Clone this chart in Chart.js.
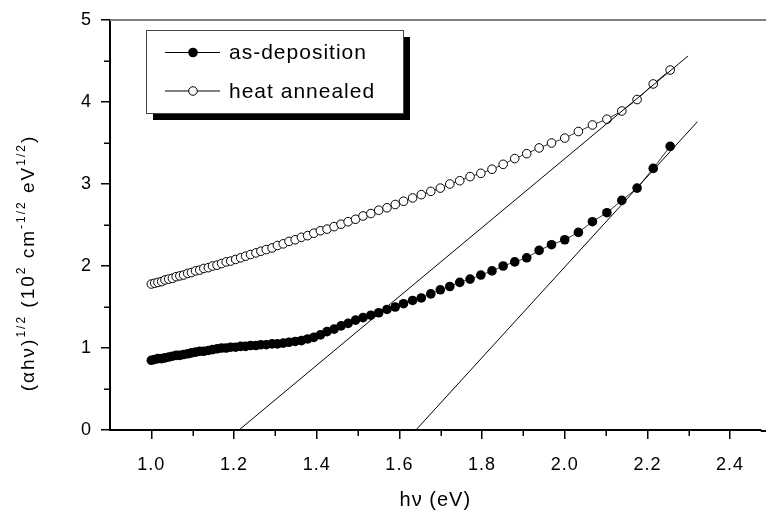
<!DOCTYPE html>
<html>
<head>
<meta charset="utf-8">
<script src="https://cdn.jsdelivr.net/npm/chart.js@4.4.1/dist/chart.umd.min.js"></script>
<style>
  html, body { margin: 0; padding: 0; background: #fff; }
  #wrap { width: 766px; height: 517px; }
</style>
</head>
<body>
<div id="wrap"><canvas id="chart" width="766" height="517"></canvas></div>
<script>
// photon energy (eV) of each measured point
const hvValues = [
  1.000, 1.008, 1.016, 1.025, 1.033, 1.042, 1.051, 1.060, 1.069, 1.078,
  1.088, 1.097, 1.107, 1.117, 1.127, 1.138, 1.148, 1.159, 1.170, 1.181,
  1.192, 1.204, 1.216, 1.228, 1.240, 1.253, 1.265, 1.278, 1.292, 1.305,
  1.319, 1.333, 1.348, 1.363, 1.378, 1.393, 1.409, 1.425, 1.442, 1.459,
  1.476, 1.494, 1.512, 1.531, 1.550, 1.570, 1.590, 1.610, 1.632, 1.653,
  1.676, 1.699, 1.722, 1.746, 1.771, 1.797, 1.824, 1.851, 1.879, 1.908,
  1.938, 1.968, 2.000, 2.033, 2.067, 2.102, 2.138, 2.175, 2.214, 2.255
];
const asDeposition = [
  0.85, 0.86, 0.87, 0.87, 0.88, 0.89, 0.90, 0.91, 0.91, 0.92,
  0.93, 0.94, 0.95, 0.96, 0.96, 0.97, 0.98, 0.99, 1.00, 1.00,
  1.01, 1.01, 1.02, 1.02, 1.03, 1.03, 1.04, 1.04, 1.05, 1.05,
  1.06, 1.07, 1.08, 1.09, 1.11, 1.13, 1.16, 1.20, 1.23, 1.27,
  1.30, 1.34, 1.37, 1.40, 1.43, 1.47, 1.50, 1.54, 1.58, 1.61,
  1.66, 1.71, 1.75, 1.80, 1.84, 1.89, 1.94, 2.00, 2.05, 2.10,
  2.19, 2.26, 2.32, 2.41, 2.54, 2.65, 2.80, 2.95, 3.19, 3.46
];
const heatAnnealed = [
  1.78, 1.79, 1.80, 1.81, 1.83, 1.84, 1.85, 1.87, 1.88, 1.89,
  1.91, 1.92, 1.94, 1.95, 1.97, 1.98, 2.00, 2.01, 2.03, 2.05,
  2.06, 2.08, 2.10, 2.12, 2.14, 2.16, 2.18, 2.20, 2.22, 2.25,
  2.27, 2.30, 2.32, 2.35, 2.37, 2.40, 2.43, 2.45, 2.48, 2.51,
  2.54, 2.57, 2.61, 2.64, 2.68, 2.71, 2.75, 2.79, 2.83, 2.87,
  2.91, 2.95, 3.00, 3.04, 3.09, 3.13, 3.18, 3.24, 3.31, 3.37,
  3.44, 3.50, 3.56, 3.64, 3.72, 3.79, 3.89, 4.03, 4.22, 4.39
];

// linear extrapolation lines (end points)
const fitAnnealedX = [1.212, 2.298];
const fitAnnealedY = [0, 4.56];
const fitDepositionX = [1.640, 2.321];
const fitDepositionY = [0, 3.76];

const xTicks = [1.0, 1.2, 1.4, 1.6, 1.8, 2.0, 2.2, 2.4];
const xMinorTicks = [1.1, 1.3, 1.5, 1.7, 1.9, 2.1, 2.3];
const yTicks = [0, 1, 2, 3, 4, 5];
const yMinorTicks = [0.5, 1.5, 2.5, 3.5, 4.5];

const FONT = '"Liberation Sans", Arial, Helvetica, sans-serif';

const toPoints = (xs, ys) => xs.map((x, i) => ({ x: x, y: ys[i] }));

// minor ticks and the grey top frame line
const framePlugin = {
    id: 'frame',
    afterDraw(chart) {
        const ctx = chart.ctx;
        const area = chart.chartArea;
        const xs = chart.scales.x;
        const ys = chart.scales.y;
        ctx.save();
        ctx.strokeStyle = '#808080';
        ctx.lineWidth = 2;
        ctx.beginPath();
        ctx.moveTo(area.left, area.top);
        ctx.lineTo(chart.width, area.top);
        ctx.stroke();

        ctx.strokeStyle = '#000';
        ctx.lineWidth = 1.5;
        ctx.beginPath();
        xMinorTicks.forEach(v => {
            const px = Math.round(xs.getPixelForValue(v)) + 0.25;
            ctx.moveTo(px, area.bottom);
            ctx.lineTo(px, area.bottom + 6);
        });
        yMinorTicks.forEach(v => {
            const py = Math.round(ys.getPixelForValue(v)) + 0.25;
            ctx.moveTo(area.left - 6, py);
            ctx.lineTo(area.left, py);
        });
        ctx.stroke();
        // x axis runs on to the edge of the picture
        ctx.lineWidth = 2;
        ctx.beginPath();
        ctx.moveTo(area.right, area.bottom + 1);
        ctx.lineTo(chart.width, area.bottom + 1);
        ctx.stroke();
        ctx.restore();
    }
};

// boxed legend with a drop shadow
const boxLegendPlugin = {
    id: 'boxLegend',
    afterDraw(chart) {
        const ctx = chart.ctx;
        const bx = 146, by = 30, bw = 257, bh = 83, shadow = 7;
        ctx.save();
        ctx.fillStyle = '#000';
        ctx.fillRect(bx + shadow, by + shadow, bw, bh);
        ctx.fillStyle = '#fff';
        ctx.fillRect(bx, by, bw, bh);
        ctx.strokeStyle = '#444';
        ctx.lineWidth = 1;
        ctx.strokeRect(bx + 0.5, by + 0.5, bw, bh);

        const rows = [52.5, 91];
        ctx.font = '21px ' + FONT;
        ctx.letterSpacing = '1px';
        ctx.textBaseline = 'middle';
        rows.forEach((y, i) => {
            const ds = chart.data.datasets[i];
            ctx.strokeStyle = '#000';
            ctx.lineWidth = 1;
            ctx.beginPath();
            ctx.moveTo(165, y);
            ctx.lineTo(220, y);
            ctx.stroke();
            ctx.beginPath();
            ctx.arc(193, y, ds.pointRadius, 0, Math.PI * 2);
            ctx.fillStyle = ds.pointBackgroundColor;
            ctx.fill();
            if (ds.pointBorderWidth > 0) {
                ctx.lineWidth = ds.pointBorderWidth;
                ctx.stroke();
            }
            ctx.fillStyle = '#000';
            ctx.fillText(ds.label, 229, y + 1);
        });
        ctx.restore();
    }
};

// rotated y title with superscripts
const yTitlePlugin = {
    id: 'yTitle',
    afterDraw(chart) {
        const ctx = chart.ctx;
        const parts = [
            ['(\u03B1h\u03BD)', false], ['1/2', true], [' (10', false], ['2', true],
            [' cm', false], ['-1/2', true], [' eV', false], ['1/2', true], [')', false]
        ];
        const big = '19px ' + FONT, small = '12px ' + FONT;
        ctx.save();
        ctx.letterSpacing = '2px';
        let total = 0;
        parts.forEach(p => {
            ctx.font = p[1] ? small : big;
            total += ctx.measureText(p[0]).width;
        });
        ctx.translate(34, 263);
        ctx.rotate(-Math.PI / 2);
        ctx.fillStyle = '#000';
        ctx.textBaseline = 'alphabetic';
        let x = -total / 2;
        parts.forEach(p => {
            ctx.font = p[1] ? small : big;
            ctx.fillText(p[0], x, p[1] ? -9 : 0);
            x += ctx.measureText(p[0]).width;
        });
        ctx.restore();
    }
};

const spacingPlugin = {
    id: 'spacing',
    beforeDraw(chart) {
        chart.ctx.letterSpacing = '1px';
    }
};

Chart.defaults.color = '#000';
Chart.defaults.font.family = FONT;

new Chart(document.getElementById('chart'), {
    type: 'scatter',
    data: {
        datasets: [{
            label: 'as-deposition',
            data: toPoints(hvValues, asDeposition),
            showLine: true,
            borderColor: '#000',
            borderWidth: 0.8,
            pointRadius: 4.8,
            pointBackgroundColor: '#000',
            pointBorderColor: '#000',
            pointBorderWidth: 0
        }, {
            label: 'heat annealed',
            data: toPoints(hvValues, heatAnnealed),
            showLine: true,
            borderColor: '#000',
            borderWidth: 0.8,
            pointRadius: 4.3,
            pointBackgroundColor: '#fff',
            pointBorderColor: '#000',
            pointBorderWidth: 1
        }, {
            label: 'fit annealed',
            data: toPoints(fitAnnealedX, fitAnnealedY),
            showLine: true,
            borderColor: '#000',
            borderWidth: 1,
            pointRadius: 0,
            order: -1
        }, {
            label: 'fit deposition',
            data: toPoints(fitDepositionX, fitDepositionY),
            showLine: true,
            borderColor: '#000',
            borderWidth: 1,
            pointRadius: 0,
            order: -1
        }]
    },
    options: {
        responsive: false,
        animation: false,
        devicePixelRatio: 1,
        layout: { padding: { top: 20, right: 0, bottom: 0, left: 0 } },
        plugins: {
            legend: { display: false },
            tooltip: { enabled: false }
        },
        scales: {
            x: {
                type: 'linear',
                min: 0.9,
                max: 2.474,
                afterFit: function (scale) { scale.height = 87; },
                afterBuildTicks: function (scale) {
                    scale.ticks = xTicks.map(v => ({ value: v }));
                },
                ticks: {
                    padding: 15,
                    font: { size: 18 },
                    callback: function (value) { return value.toFixed(1); }
                },
                grid: {
                    drawOnChartArea: false,
                    tickLength: 9,
                    color: '#000',
                    lineWidth: 1.5
                },
                border: { color: '#000', width: 2 },
                title: {
                    display: true,
                    text: 'h\u03BD (eV)',
                    font: { size: 20 },
                    padding: { top: 0, bottom: 5 }
                }
            },
            y: {
                type: 'linear',
                min: 0,
                max: 5,
                afterFit: function (scale) { scale.width = 110; },
                afterBuildTicks: function (scale) {
                    scale.ticks = yTicks.map(v => ({ value: v }));
                },
                ticks: {
                    padding: 9,
                    font: { size: 18 },
                    callback: function (value) { return value.toFixed(0); }
                },
                grid: {
                    drawOnChartArea: false,
                    tickLength: 9,
                    color: '#000',
                    lineWidth: 1.5
                },
                border: { color: '#000', width: 2 }
            }
        }
    },
    plugins: [spacingPlugin, framePlugin, boxLegendPlugin, yTitlePlugin]
});
</script>
</body>
</html>
